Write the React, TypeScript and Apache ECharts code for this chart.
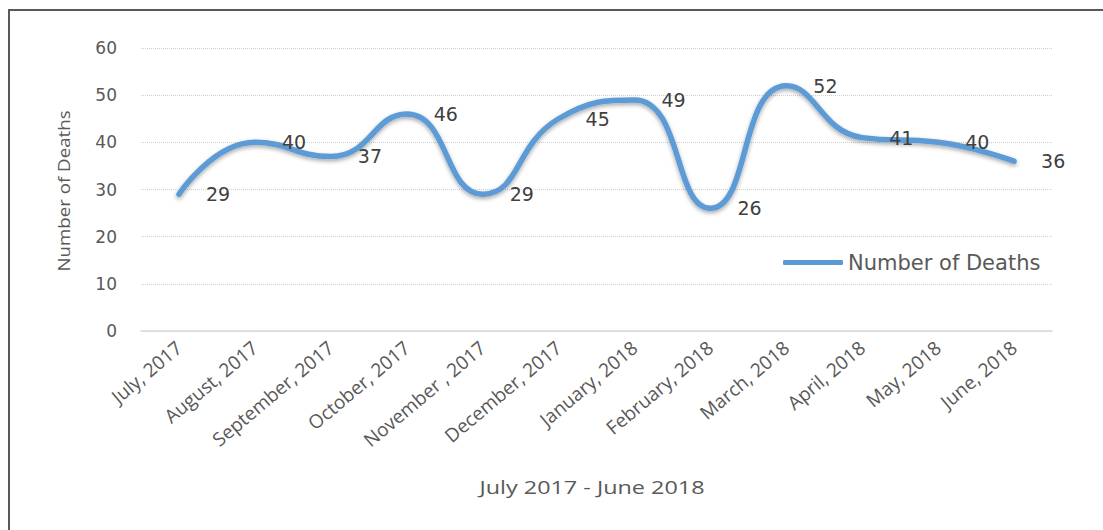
import React, { useEffect, useRef } from "react";
import * as echarts from "echarts";

const months = [
  "July, 2017",
  "August, 2017",
  "September, 2017",
  "October, 2017",
  "November , 2017",
  "December, 2017",
  "January, 2018",
  "February, 2018",
  "March, 2018",
  "April, 2018",
  "May, 2018",
  "June, 2018",
];
const deaths = [29, 40, 37, 46, 29, 45, 49, 26, 52, 41, 40, 36];
const seriesName = "Number of Deaths";
const yTitle = "Number of Deaths";
const xTitle = "July 2017 - June 2018";

export default function App() {
  const ref = useRef<HTMLDivElement>(null);
  useEffect(() => {
    if (!ref.current) return;
    const chart = echarts.init(ref.current, undefined, { renderer: "svg" });
    chart.setOption({
      animation: false,
      backgroundColor: "#ffffff",
      grid: { left: 141, right: 51, top: 48, bottom: 199, containLabel: false },
      legend: {
        data: [seriesName],
        left: 778,
        top: 247,
        icon: "roundRect",
        itemWidth: 60,
        itemHeight: 5,
        itemGap: 7,
        itemStyle: { color: "#5B9BD5", opacity: 1 },
        textStyle: { fontFamily: "DejaVu Sans", fontSize: 21, color: "#595959" },
      },
      xAxis: {
        type: "category",
        data: months,
        boundaryGap: true,
        axisLine: { show: true, lineStyle: { color: "#d9d9d9", width: 1.5 } },
        axisTick: { show: false },
        axisLabel: {
          rotate: 40,
          interval: 0,
          margin: 14,
          fontFamily: "Open Sans",
          fontSize: 19,
          color: "#595959",
        },
      },
      yAxis: {
        type: "value",
        min: 0,
        max: 60,
        interval: 10,
        axisLine: { show: false },
        axisTick: { show: false },
        splitLine: { lineStyle: { type: "dotted", color: "#d0d0d0", width: 1 } },
        axisLabel: {
          margin: 24,
          fontFamily: "DejaVu Sans",
          fontSize: 17,
          color: "#595959",
        },
      },
      graphic: [
        {
          type: "line",
          shape: { x1: 8, y1: 10, x2: 1103, y2: 10 },
          style: { stroke: "#595959", lineWidth: 2 },
        },
        {
          type: "line",
          shape: { x1: 9, y1: 9, x2: 9, y2: 530 },
          style: { stroke: "#595959", lineWidth: 2 },
        },
        {
          type: "text",
          x: 63,
          y: 191,
          rotation: Math.PI / 2,
          scaleX: 1.1,
          style: {
            text: yTitle,
            fontFamily: "Open Sans",
            fontSize: 17,
            fill: "#595959",
            align: "center",
            verticalAlign: "middle",
          },
        },
        {
          type: "text",
          x: 592,
          y: 487,
          scaleX: 1.3,
          style: {
            text: xTitle,
            fontFamily: "Open Sans",
            fontSize: 18,
            fill: "#595959",
            align: "center",
            verticalAlign: "middle",
          },
        },
      ],
      series: [
        {
          name: seriesName,
          type: "line",
          data: deaths,
          smooth: 0.5,
          symbol: "circle",
          symbolSize: 2,
          showSymbol: true,
          showAllSymbol: true,
          lineStyle: {
            color: "#5B9BD5",
            width: 5.5,
            cap: "round",
            shadowColor: "rgba(0,0,0,0.35)",
            shadowBlur: 4,
            shadowOffsetY: 2,
          },
          itemStyle: { color: "#5B9BD5" },
          label: {
            show: true,
            position: "right",
            distance: 26,
            fontFamily: "DejaVu Sans",
            fontSize: 19,
            color: "#404040",
          },
        },
      ],
    });
    return () => chart.dispose();
  }, []);
  return (
    <div
      ref={ref}
      style={{ position: "fixed", left: 0, top: 0, width: 1103, height: 530 }}
    />
  );
}
